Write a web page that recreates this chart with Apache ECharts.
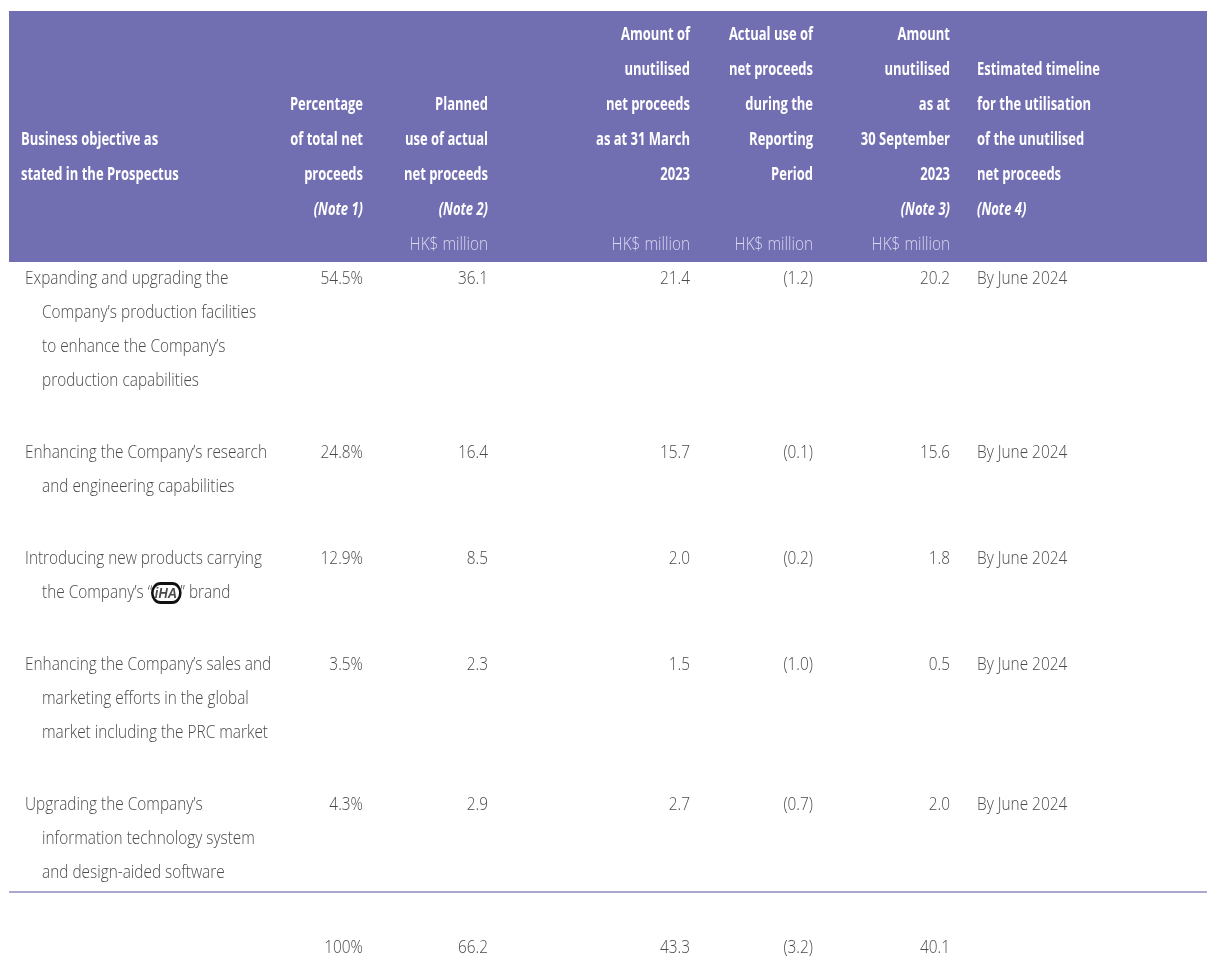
<!DOCTYPE html>
<html>
<head>
<meta charset="utf-8">
<script src="https://cdn.jsdelivr.net/npm/echarts@6/dist/echarts.min.js"></script>
<style>
html,body{margin:0;padding:0;background:#fff;}
#chart{width:1207px;height:962px;}
</style>
</head>
<body>
<div id="chart"></div>
<script>
// ---------- DATA ----------
const headers = [
  ["Business objective as", "stated in the Prospectus"],
  ["Percentage", "of total net", "proceeds"],
  ["Planned", "use of actual", "net proceeds"],
  ["Amount of", "unutilised", "net proceeds", "as at 31 March", "2023"],
  ["Actual use of", "net proceeds", "during the", "Reporting", "Period"],
  ["Amount", "unutilised", "as at", "30 September", "2023"],
  ["Estimated timeline", "for the utilisation", "of the unutilised", "net proceeds"]
];
const headerNotes = ["", "(Note 1)", "(Note 2)", "", "", "(Note 3)", "(Note 4)"];
const headerUnits = ["", "", "HK$ million", "HK$ million", "HK$ million", "HK$ million", ""];

const objectives = [
  ["Expanding and upgrading the", "Company’s production facilities", "to enhance the Company’s", "production capabilities"],
  ["Enhancing the Company’s research", "and engineering capabilities"],
  ["Introducing new products carrying", "the Company’s “{logo|iHA}” brand"],
  ["Enhancing the Company’s sales and", "marketing efforts in the global", "market including the PRC market"],
  ["Upgrading the Company’s", "information technology system", "and design-aided software"]
];
const pctOfTotal = ["54.5%", "24.8%", "12.9%", "3.5%", "4.3%"];
const plannedUse = [36.1, 16.4, 8.5, 2.3, 2.9];
const unutilisedMar2023 = [21.4, 15.7, 2.0, 1.5, 2.7];
const actualUse = [-1.2, -0.1, -0.2, -1.0, -0.7];
const unutilisedSep2023 = [20.2, 15.6, 1.8, 0.5, 2.0];
const timeline = ["By June 2024", "By June 2024", "By June 2024", "By June 2024", "By June 2024"];
const totals = ["100%", 66.2, 43.3, -3.2, 40.1];

// ---------- LAYOUT / STYLE ----------
const W = 1207, H = 962;
const headerAnchor = [21, 363, 488, 690, 813, 950, 977];
const bodyAnchor = [25, 363, 488, 690, 813, 950, 977];
const colAlign = ['left', 'right', 'right', 'right', 'right', 'right', 'left'];
const indent = 17;
const hdrTop = 34.5, hdrStep = 35;
const bodyTop = 279, lineStep = 34, rowGap = 38;
const totalY = 948;
const FAM = "'Open Sans','Noto Sans','Liberation Sans',sans-serif";
const headBg = '#726eb2';
const bodyColor = '#4a4a4a';

const FONT_HEAD = 'bold 18px ' + FAM;
const FONT_NOTE = 'italic bold 18px ' + FAM;
const FONT_UNIT = '300 18px ' + FAM;
const FONT_BODY = '300 18px ' + FAM;

// horizontal condensing factors, calibrated so sample strings match the reference widths
const mctx = document.createElement('canvas').getContext('2d');
function widthOf(font, s) { mctx.font = font; return mctx.measureText(s).width; }
const sxHead = 123 / widthOf(FONT_HEAD, 'Estimated timeline');
const sxBody = 242 / widthOf(FONT_BODY, 'Enhancing the Company’s research');

function fmt(v) {
  if (typeof v === 'string') return v;
  return v < 0 ? '(' + Math.abs(v).toFixed(1) + ')' : v.toFixed(1);
}

const cells = [];
headers.forEach((lines, c) => {
  const n = lines.length;
  lines.forEach((t, i) => {
    cells.push({x: headerAnchor[c], y: hdrTop + (4 - (n - 1 - i)) * hdrStep, text: t, align: colAlign[c],
      font: FONT_HEAD, color: '#ffffff', sx: sxHead});
  });
  if (headerNotes[c]) cells.push({x: headerAnchor[c], y: hdrTop + 5 * hdrStep, text: headerNotes[c], align: colAlign[c],
      font: FONT_NOTE, color: '#ffffff', sx: sxHead});
  if (headerUnits[c]) cells.push({x: headerAnchor[c], y: hdrTop + 6 * hdrStep, text: headerUnits[c], align: colAlign[c],
      font: FONT_UNIT, color: '#dad9ef', sx: sxBody});
});
let cum = 0;
objectives.forEach((lines, r) => {
  const y0 = bodyTop + cum * lineStep + r * rowGap;
  lines.forEach((t, i) => {
    cells.push({x: bodyAnchor[0] + (i ? indent : 0), y: y0 + i * lineStep, text: t, align: 'left',
      font: FONT_BODY, color: bodyColor, sx: sxBody});
  });
  const vals = [pctOfTotal[r], fmt(plannedUse[r]), fmt(unutilisedMar2023[r]), fmt(actualUse[r]), fmt(unutilisedSep2023[r]), timeline[r]];
  vals.forEach((t, k) => {
    cells.push({x: bodyAnchor[k + 1], y: y0, text: t, align: colAlign[k + 1], font: FONT_BODY, color: bodyColor, sx: sxBody});
  });
  cum += lines.length;
});
const sepY = bodyTop + (cum - 1) * lineStep + (objectives.length - 1) * rowGap + 19;
totals.forEach((v, k) => {
  cells.push({x: bodyAnchor[k + 1], y: totalY, text: fmt(v), align: colAlign[k + 1], font: FONT_BODY, color: bodyColor, sx: sxBody});
});

const rich = {
  logo: {
    fontFamily: "'Liberation Sans',sans-serif", fontWeight: 'bold', fontStyle: 'italic', fontSize: 15,
    color: '#111', borderColor: '#111', borderWidth: 3, borderRadius: 12, padding: [3, 4, 1, 3]
  }
};

const chart = echarts.init(document.getElementById('chart'), null, {renderer: 'canvas'});
chart.setOption({
  animation: false,
  backgroundColor: '#ffffff',
  grid: {left: 0, right: 0, top: 0, bottom: 0},
  xAxis: {type: 'value', min: 0, max: W, show: false},
  yAxis: {type: 'value', min: 0, max: H, inverse: true, show: false},
  series: [
    {
      type: 'custom',
      silent: true,
      z: 1,
      data: [[9, 11, W, 262]],
      renderItem: function (params, api) {
        const p0 = api.coord([api.value(0), api.value(1)]);
        const p1 = api.coord([api.value(2), api.value(3)]);
        const a = api.coord([9, sepY]), b = api.coord([W, sepY]);
        return {
          type: 'group',
          children: [
            {type: 'rect', shape: {x: p0[0], y: p0[1], width: p1[0] - p0[0], height: p1[1] - p0[1]}, style: {fill: headBg}},
            {type: 'line', shape: {x1: a[0], y1: a[1], x2: b[0], y2: b[1]}, style: {stroke: '#8e8bc4', lineWidth: 1.6}}
          ]
        };
      }
    },
    {
      type: 'custom',
      silent: true,
      z: 2,
      data: cells.map((c, i) => [c.x, c.y, i]),
      renderItem: function (params, api) {
        const c = cells[params.dataIndex];
        const p = api.coord([api.value(0), api.value(1)]);
        return {
          type: 'text',
          x: p[0], y: p[1],
          scaleX: c.sx, scaleY: 1,
          style: {
            text: c.text, x: 0, y: 0,
            font: c.font, fill: c.color,
            align: c.align, verticalAlign: 'middle',
            textAlign: c.align, textVerticalAlign: 'middle',
            rich: rich
          }
        };
      }
    }
  ]
});
</script>
</body>
</html>
